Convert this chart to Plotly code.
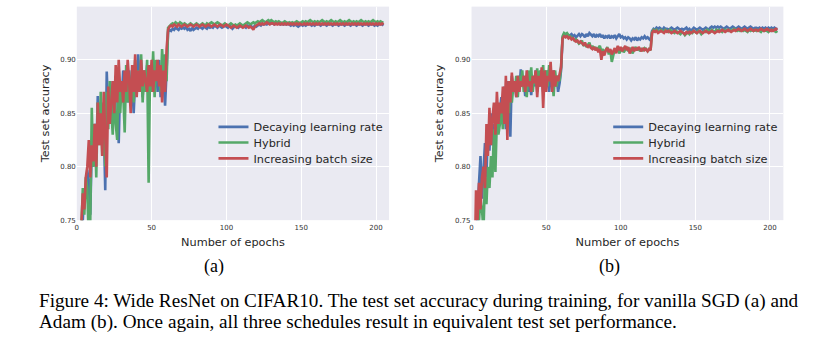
import plotly.graph_objects as go

epochs = list(range(1, 206))

# ---- (a) vanilla SGD ----
dec_a = [
    0.600, 0.680, 0.720, 0.750, 0.780, 0.770, 0.797, 0.785, 0.755, 0.820,
    0.800, 0.840, 0.810, 0.866, 0.830, 0.860, 0.820, 0.840, 0.778, 0.889,
    0.850, 0.870, 0.840, 0.880, 0.860, 0.885, 0.870, 0.822, 0.880, 0.860,
    0.890, 0.870, 0.880, 0.860, 0.890, 0.870, 0.880, 0.850, 0.880, 0.870,
    0.905, 0.880, 0.890, 0.865, 0.890, 0.875, 0.895, 0.880, 0.890, 0.870,
    0.900, 0.880, 0.895, 0.870, 0.900, 0.865, 0.895, 0.880, 0.857, 0.890,
    0.926, 0.928, 0.927, 0.929, 0.928, 0.930, 0.929, 0.928, 0.930, 0.929,
    0.930, 0.929, 0.931, 0.928, 0.929, 0.927, 0.930, 0.928, 0.929, 0.930,
    0.929, 0.931, 0.930, 0.929, 0.931, 0.930, 0.929, 0.931, 0.930, 0.931,
    0.930, 0.932, 0.931, 0.930, 0.932, 0.931, 0.930, 0.931, 0.932, 0.931,
    0.930, 0.932, 0.931, 0.929, 0.931, 0.932, 0.931, 0.930, 0.932, 0.931,
    0.932, 0.931, 0.930, 0.932, 0.931, 0.932, 0.931, 0.930, 0.932, 0.931,
    0.932, 0.933, 0.932, 0.934, 0.933, 0.934, 0.933, 0.934, 0.935, 0.934,
    0.934, 0.933, 0.934, 0.935, 0.934, 0.933, 0.934, 0.933, 0.934, 0.933,
    0.934, 0.933, 0.932, 0.933, 0.932, 0.933, 0.932, 0.931, 0.932, 0.933,
    0.932, 0.933, 0.932, 0.933, 0.934, 0.933, 0.932, 0.933, 0.932, 0.933,
    0.934, 0.933, 0.932, 0.933, 0.934, 0.933, 0.932, 0.933, 0.934, 0.933,
    0.932, 0.933, 0.934, 0.933, 0.932, 0.933, 0.934, 0.933, 0.932, 0.933,
    0.934, 0.933, 0.932, 0.933, 0.934, 0.933, 0.932, 0.933, 0.934, 0.933,
    0.932, 0.933, 0.934, 0.933, 0.932, 0.933, 0.934, 0.933, 0.932, 0.933,
    0.932, 0.933, 0.934, 0.933, 0.932,
]
hyb_a = [
    0.620, 0.700, 0.740, 0.780, 0.755, 0.790, 0.780, 0.730, 0.750, 0.855,
    0.800, 0.840, 0.790, 0.860, 0.820, 0.870, 0.810, 0.860, 0.800, 0.870,
    0.835, 0.880, 0.850, 0.830, 0.875, 0.840, 0.825, 0.890, 0.850, 0.880,
    0.870, 0.832, 0.895, 0.860, 0.880, 0.870, 0.890, 0.860, 0.900, 0.880,
    0.890, 0.870, 0.905, 0.860, 0.890, 0.870, 0.900, 0.785, 0.895, 0.870,
    0.908, 0.865, 0.900, 0.880, 0.890, 0.870, 0.910, 0.885, 0.905, 0.880,
    0.930, 0.932, 0.933, 0.934, 0.933, 0.935, 0.934, 0.933, 0.935, 0.934,
    0.933, 0.934, 0.933, 0.932, 0.933, 0.934, 0.933, 0.932, 0.933, 0.934,
    0.933, 0.932, 0.933, 0.934, 0.933, 0.932, 0.934, 0.933, 0.934, 0.935,
    0.934, 0.933, 0.934, 0.935, 0.934, 0.933, 0.932, 0.933, 0.934, 0.933,
    0.932, 0.933, 0.934, 0.933, 0.932, 0.933, 0.932, 0.933, 0.934, 0.933,
    0.932, 0.933, 0.934, 0.935, 0.934, 0.933, 0.934, 0.935, 0.934, 0.935,
    0.936, 0.935, 0.936, 0.937, 0.936, 0.935, 0.936, 0.937, 0.936, 0.937,
    0.936, 0.935, 0.936, 0.935, 0.936, 0.935, 0.934, 0.935, 0.936, 0.935,
    0.934, 0.935, 0.934, 0.935, 0.934, 0.935, 0.936, 0.935, 0.934, 0.935,
    0.936, 0.935, 0.936, 0.935, 0.936, 0.937, 0.936, 0.935, 0.936, 0.935,
    0.936, 0.935, 0.936, 0.937, 0.936, 0.935, 0.936, 0.935, 0.936, 0.937,
    0.936, 0.935, 0.936, 0.935, 0.936, 0.937, 0.936, 0.935, 0.936, 0.935,
    0.936, 0.937, 0.936, 0.935, 0.936, 0.935, 0.936, 0.935, 0.936, 0.937,
    0.936, 0.935, 0.936, 0.935, 0.936, 0.935, 0.936, 0.937, 0.936, 0.935,
    0.936, 0.935, 0.936, 0.935, 0.935,
]
inc_a = [
    0.640, 0.710, 0.745, 0.775, 0.760, 0.790, 0.800, 0.825, 0.790, 0.820,
    0.805, 0.840, 0.800, 0.860, 0.820, 0.850, 0.810, 0.870, 0.830, 0.790,
    0.875, 0.840, 0.860, 0.880, 0.850, 0.895, 0.860, 0.900, 0.870, 0.880,
    0.860, 0.890, 0.870, 0.900, 0.880, 0.850, 0.895, 0.870, 0.905, 0.865,
    0.890, 0.870, 0.900, 0.875, 0.890, 0.880, 0.870, 0.895, 0.875, 0.900,
    0.870, 0.890, 0.880, 0.900, 0.875, 0.895, 0.860, 0.890, 0.870, 0.910,
    0.928, 0.931, 0.932, 0.931, 0.933, 0.932, 0.931, 0.933, 0.932, 0.931,
    0.932, 0.933, 0.932, 0.931, 0.932, 0.933, 0.932, 0.931, 0.932, 0.933,
    0.932, 0.931, 0.932, 0.933, 0.932, 0.931, 0.932, 0.933, 0.932, 0.931,
    0.932, 0.933, 0.932, 0.931, 0.932, 0.933, 0.932, 0.931, 0.932, 0.933,
    0.932, 0.931, 0.930, 0.931, 0.932, 0.931, 0.930, 0.931, 0.932, 0.931,
    0.930, 0.931, 0.932, 0.931, 0.930, 0.931, 0.930, 0.928, 0.931, 0.932,
    0.933, 0.934, 0.933, 0.934, 0.933, 0.934, 0.935, 0.934, 0.933, 0.934,
    0.934, 0.933, 0.934, 0.933, 0.934, 0.933, 0.934, 0.933, 0.934, 0.933,
    0.934, 0.933, 0.934, 0.933, 0.934, 0.933, 0.934, 0.933, 0.934, 0.933,
    0.933, 0.934, 0.933, 0.934, 0.933, 0.934, 0.933, 0.934, 0.933, 0.934,
    0.933, 0.934, 0.933, 0.934, 0.933, 0.934, 0.933, 0.934, 0.933, 0.934,
    0.933, 0.934, 0.933, 0.934, 0.933, 0.934, 0.933, 0.934, 0.933, 0.934,
    0.933, 0.934, 0.933, 0.934, 0.933, 0.934, 0.933, 0.934, 0.933, 0.934,
    0.933, 0.934, 0.933, 0.934, 0.933, 0.934, 0.933, 0.934, 0.933, 0.934,
    0.933, 0.934, 0.933, 0.934, 0.933,
]

# ---- (b) Adam ----
dec_b = [
    0.600, 0.680, 0.720, 0.760, 0.780, 0.810, 0.770, 0.800, 0.822, 0.790,
    0.840, 0.815, 0.850, 0.820, 0.840, 0.830, 0.860, 0.840, 0.850, 0.865,
    0.840, 0.875, 0.835, 0.880, 0.860, 0.828, 0.885, 0.870, 0.880, 0.865,
    0.885, 0.870, 0.891, 0.875, 0.880, 0.866, 0.885, 0.870, 0.880, 0.867,
    0.885, 0.875, 0.890, 0.870, 0.885, 0.875, 0.890, 0.870, 0.883, 0.875,
    0.890, 0.870, 0.885, 0.875, 0.890, 0.880, 0.885, 0.870, 0.878, 0.890,
    0.920, 0.924, 0.923, 0.924, 0.922, 0.923, 0.924, 0.922, 0.923, 0.921,
    0.923, 0.924, 0.922, 0.924, 0.923, 0.921, 0.924, 0.922, 0.925, 0.923,
    0.922, 0.924, 0.921, 0.923, 0.922, 0.924, 0.921, 0.923, 0.920, 0.922,
    0.921, 0.923, 0.920, 0.922, 0.921, 0.923, 0.920, 0.922, 0.924, 0.921,
    0.922, 0.920, 0.921, 0.919, 0.921, 0.920, 0.918, 0.920, 0.919, 0.921,
    0.918, 0.920, 0.919, 0.921, 0.920, 0.922, 0.920, 0.921, 0.919, 0.918,
    0.927, 0.929, 0.928, 0.930, 0.929, 0.930, 0.929, 0.928, 0.930, 0.929,
    0.929, 0.928, 0.929, 0.930, 0.929, 0.928, 0.929, 0.930, 0.929, 0.928,
    0.929, 0.928, 0.929, 0.930, 0.928, 0.929, 0.927, 0.929, 0.930, 0.929,
    0.928, 0.929, 0.930, 0.929, 0.928, 0.929, 0.930, 0.929, 0.928, 0.930,
    0.931, 0.930, 0.931, 0.930, 0.931, 0.930, 0.931, 0.930, 0.929, 0.930,
    0.931, 0.930, 0.929, 0.930, 0.931, 0.930, 0.929, 0.930, 0.931, 0.930,
    0.929, 0.930, 0.931, 0.930, 0.929, 0.930, 0.931, 0.930, 0.929, 0.930,
    0.930, 0.929, 0.930, 0.929, 0.930, 0.929, 0.930, 0.929, 0.930, 0.929,
    0.930, 0.929, 0.930, 0.929, 0.929,
]
hyb_b = [
    0.580, 0.650, 0.700, 0.730, 0.750, 0.770, 0.760, 0.740, 0.790, 0.765,
    0.800, 0.780, 0.810, 0.790, 0.835, 0.795, 0.845, 0.830, 0.840, 0.855,
    0.835, 0.865, 0.845, 0.875, 0.850, 0.880, 0.860, 0.875, 0.870, 0.885,
    0.865, 0.885, 0.875, 0.890, 0.870, 0.885, 0.865, 0.890, 0.875, 0.893,
    0.870, 0.885, 0.877, 0.892, 0.875, 0.890, 0.880, 0.895, 0.870, 0.890,
    0.875, 0.895, 0.880, 0.885, 0.866, 0.890, 0.875, 0.885, 0.880, 0.893,
    0.922, 0.925, 0.924, 0.925, 0.923, 0.922, 0.921, 0.920, 0.918, 0.919,
    0.917, 0.915, 0.916, 0.918, 0.913, 0.915, 0.912, 0.914, 0.916, 0.911,
    0.913, 0.910, 0.912, 0.909, 0.911, 0.913, 0.908, 0.910, 0.906, 0.909,
    0.912, 0.905, 0.909, 0.898, 0.906, 0.910, 0.908, 0.912, 0.906, 0.909,
    0.911, 0.907, 0.910, 0.912, 0.908, 0.911, 0.909, 0.906, 0.910, 0.912,
    0.909, 0.911, 0.908, 0.910, 0.909, 0.911, 0.910, 0.908, 0.910, 0.909,
    0.926, 0.928, 0.927, 0.928, 0.926, 0.927, 0.928, 0.927, 0.926, 0.928,
    0.927, 0.926, 0.928, 0.927, 0.926, 0.925, 0.927, 0.926, 0.925, 0.924,
    0.926, 0.925, 0.923, 0.925, 0.926, 0.924, 0.926, 0.925, 0.927, 0.926,
    0.925, 0.927, 0.926, 0.924, 0.926, 0.927, 0.926, 0.928, 0.927, 0.926,
    0.928, 0.927, 0.926, 0.928, 0.927, 0.928, 0.927, 0.926, 0.928, 0.927,
    0.928, 0.927, 0.928, 0.927, 0.928, 0.929, 0.928, 0.927, 0.928, 0.927,
    0.928, 0.927, 0.928, 0.927, 0.926, 0.928, 0.927, 0.928, 0.927, 0.928,
    0.927, 0.928, 0.927, 0.926, 0.928, 0.927, 0.928, 0.927, 0.926, 0.928,
    0.927, 0.928, 0.927, 0.926, 0.927,
]
inc_b = [
    0.620, 0.700, 0.778, 0.750, 0.785, 0.760, 0.790, 0.800, 0.780, 0.840,
    0.810, 0.855, 0.820, 0.845, 0.860, 0.830, 0.870, 0.840, 0.860, 0.850,
    0.875, 0.840, 0.885, 0.825, 0.880, 0.860, 0.888, 0.870, 0.880, 0.865,
    0.885, 0.870, 0.880, 0.875, 0.885, 0.870, 0.890, 0.875, 0.880, 0.870,
    0.885, 0.878, 0.890, 0.865, 0.885, 0.875, 0.893, 0.855, 0.890, 0.870,
    0.885, 0.880, 0.898, 0.870, 0.890, 0.875, 0.885, 0.880, 0.888, 0.893,
    0.920, 0.922, 0.921, 0.922, 0.920, 0.921, 0.919, 0.920, 0.918, 0.917,
    0.918, 0.916, 0.917, 0.915, 0.914, 0.916, 0.913, 0.912, 0.914, 0.911,
    0.910, 0.912, 0.909, 0.911, 0.907, 0.910, 0.900, 0.908, 0.904, 0.909,
    0.911, 0.907, 0.910, 0.905, 0.908, 0.911, 0.906, 0.913, 0.909, 0.912,
    0.908, 0.911, 0.913, 0.909, 0.912, 0.906, 0.910, 0.912, 0.908, 0.911,
    0.909, 0.912, 0.910, 0.908, 0.911, 0.909, 0.910, 0.908, 0.910, 0.909,
    0.925, 0.927, 0.926, 0.927, 0.925, 0.926, 0.927, 0.926, 0.925, 0.927,
    0.926, 0.927, 0.926, 0.925, 0.926, 0.927, 0.926, 0.925, 0.926, 0.927,
    0.926, 0.925, 0.924, 0.926, 0.925, 0.926, 0.925, 0.926, 0.927, 0.926,
    0.925, 0.926, 0.927, 0.926, 0.925, 0.926, 0.927, 0.926, 0.925, 0.926,
    0.927, 0.926, 0.925, 0.926, 0.927, 0.926, 0.927, 0.928, 0.927, 0.926,
    0.927, 0.928, 0.927, 0.926, 0.927, 0.928, 0.927, 0.928, 0.929, 0.928,
    0.927, 0.928, 0.929, 0.928, 0.927, 0.928, 0.929, 0.928, 0.927, 0.928,
    0.928, 0.927, 0.928, 0.929, 0.928, 0.927, 0.928, 0.929, 0.928, 0.927,
    0.928, 0.927, 0.928, 0.929, 0.928,
]

series_names = ["Decaying learning rate", "Hybrid", "Increasing batch size"]
colors = ["#4C72B0", "#55A868", "#C44E52"]
x_ticks = [0, 50, 100, 150, 200]
y_ticks = [0.75, 0.80, 0.85, 0.90]
y_tick_text = ["0.75", "0.80", "0.85", "0.90"]
panel_labels = ["(a)", "(b)"]
caption_lines = [
    "Figure 4: Wide ResNet on CIFAR10. The test set accuracy during training, for vanilla SGD (a) and",
    "Adam (b). Once again, all three schedules result in equivalent test set performance.",
]

W, H = 815, 348


def px_x(p):
    return p / W


def px_y(p):
    return 1 - p / H


fig = go.Figure()

legend_font = dict(family="DejaVu Sans", size=11.3, color="#262626")
row_tops = [113.7, 129.5, 145.5]
panels = [
    (("x", "y"), [dec_a, hyb_a, inc_a], 212, 0),
    (("x2", "y2"), [dec_b, hyb_b, inc_b], 607.7, 3),
]
legend_layouts = {}
for (xa, ya), data, lx, offset in panels:
    for k, (name, vals, col) in enumerate(zip(series_names, data, colors)):
        idx = offset + k + 1
        lg = "legend" if idx == 1 else f"legend{idx}"
        fig.add_trace(go.Scatter(
            x=epochs, y=vals, mode="lines", name=name,
            line=dict(color=col, width=2.6),
            xaxis=xa, yaxis=ya, legend=lg,
        ))
        legend_layouts[lg] = dict(x=px_x(lx), y=px_y(row_tops[k]), xanchor="left", yanchor="top",
                                  bgcolor="rgba(0,0,0,0)", font=legend_font)

ydom = [px_y(222.7), px_y(6.7)]
axis_common = dict(showgrid=True, gridcolor="white", gridwidth=1, zeroline=False,
                   showline=False, ticks="", tickfont=dict(family="DejaVu Sans", size=7, color="#333333"))
title_font = dict(family="DejaVu Sans", size=11.3, color="#262626")

fig.update_layout(
    width=W, height=H, margin=dict(l=0, r=0, t=0, b=0),
    paper_bgcolor="white", plot_bgcolor="#EAEAF2",
    xaxis=dict(domain=[px_x(75), px_x(388)], range=[0, 208.7], tickvals=x_ticks, anchor="y",
               ticklabelstandoff=2,
               title=dict(text="Number of epochs", font=title_font, standoff=6), **axis_common),
    yaxis=dict(domain=ydom, range=[0.75, 0.9497], tickvals=y_ticks, ticktext=y_tick_text, anchor="x",
               title=dict(text="Test set accuracy", font=title_font, standoff=8), **axis_common),
    xaxis2=dict(domain=[px_x(470.7), px_x(783.3)], range=[0, 209], tickvals=x_ticks, anchor="y2",
                ticklabelstandoff=2,
                title=dict(text="Number of epochs", font=title_font, standoff=6), **axis_common),
    yaxis2=dict(domain=ydom, range=[0.75, 0.9497], tickvals=y_ticks, ticktext=y_tick_text, anchor="x2",
                title=dict(text="Test set accuracy", font=title_font, standoff=8), **axis_common),
    showlegend=True,
    **legend_layouts,
)

for lbl, cx in zip(panel_labels, [213, 609]):
    fig.add_annotation(text=lbl, x=px_x(cx), y=px_y(270), xref="paper", yref="paper",
                       xanchor="center", yanchor="middle", showarrow=False,
                       font=dict(family="Liberation Serif", size=18, color="black"))

for i, line in enumerate(caption_lines):
    fig.add_annotation(text=line, x=px_x(35), y=px_y(305 + 21 * i), xref="paper", yref="paper",
                       xanchor="left", yanchor="middle", showarrow=False,
                       font=dict(family="Liberation Serif", size=19.2, color="black"))

fig.write_html("out.html")
